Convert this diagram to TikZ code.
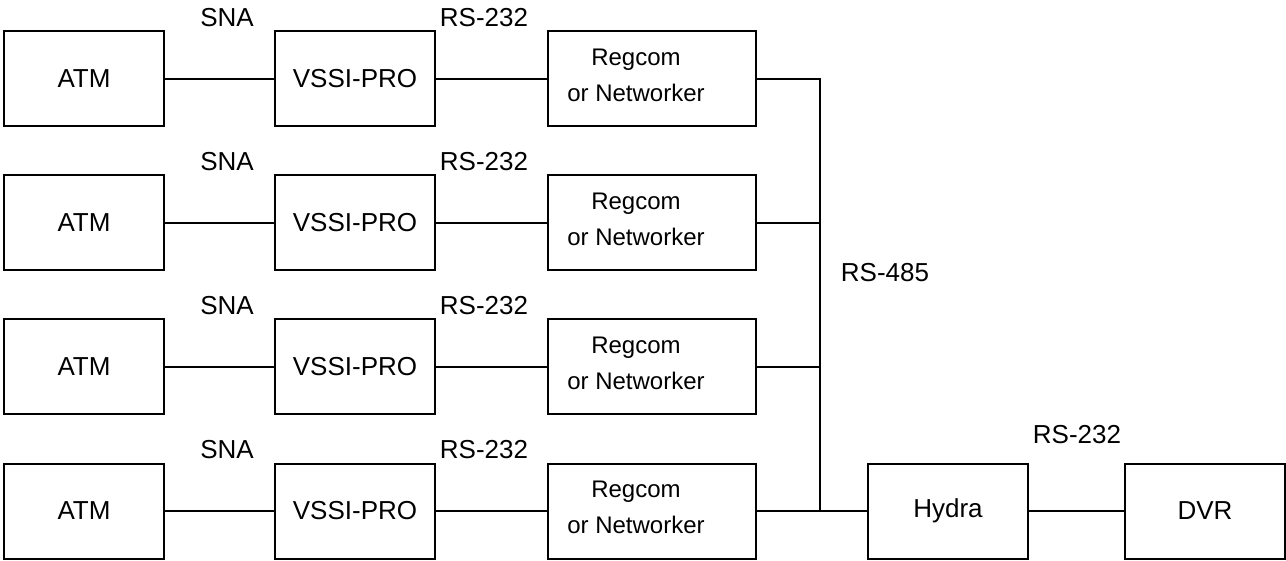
\documentclass[tikz,border=0pt]{standalone}
\usepackage{fontspec}
\setmainfont{Liberation Sans}
\usetikzlibrary{positioning}

\begin{document}
\begin{tikzpicture}[x=0.5pt, y=0.5pt, node distance=55.5pt,
    box/.style={rectangle, draw=black, line width=1pt, minimum width=80pt, minimum height=47.5pt, inner sep=0pt, outer sep=0pt, font=\fontsize{13}{16}\selectfont},
    widebox/.style={box, minimum width=104pt, font=\fontsize{12}{18}\selectfont},
    lbl/.style={font=\fontsize{13}{16}\selectfont},
    link/.style={line width=1pt}]
    \useasboundingbox (0,0) rectangle (1286,-561);
    \newcommand{\regtext}{\raisebox{1.5pt}[\height][\depth]{\begin{tabular}{@{}c@{}}\hspace*{-16pt}Regcom\\\hspace*{-16pt}or Networker\end{tabular}}}

    % ATM rows
    \node[box] (atm1) at (84,-79) {ATM};
    \node[box, below=24.5pt of atm1] (atm2) {ATM};
    \node[box, below=24.5pt of atm2] (atm3) {ATM};
    \node[box, below=24.5pt of atm3] (atm4) {ATM};

    \node[box, right=of atm1] (vssi1) {VSSI-PRO};
    \node[box, right=of atm2] (vssi2) {VSSI-PRO};
    \node[box, right=of atm3] (vssi3) {VSSI-PRO};
    \node[box, right=of atm4] (vssi4) {VSSI-PRO};

    \node[widebox, right=56.5pt of vssi1] (reg1) {\regtext};
    \node[widebox, right=56.5pt of vssi2] (reg2) {\regtext};
    \node[widebox, right=56.5pt of vssi3] (reg3) {\regtext};
    \node[widebox, right=56.5pt of vssi4] (reg4) {\regtext};

    \node[box] (hydra) at (948,-511) {Hydra};
    \node[box, right=48.5pt of hydra] (dvr) {DVR};

    % bus
    \coordinate (bustop) at (820,-79);
    \coordinate (busbot) at (820,-511);

    \draw[link] (atm1) -- (vssi1);
    \draw[link] (atm2) -- (vssi2);
    \draw[link] (atm3) -- (vssi3);
    \draw[link] (atm4) -- (vssi4);
    \draw[link] (vssi1) -- (reg1);
    \draw[link] (vssi2) -- (reg2);
    \draw[link] (vssi3) -- (reg3);
    \draw[link] (vssi4) -- (reg4);
    \draw[link] (reg1.east) -- (bustop) -- (busbot);
    \draw[link] (reg2.east) -- (reg2.east -| bustop);
    \draw[link] (reg3.east) -- (reg3.east -| bustop);
    \draw[link] (reg4) -- (hydra);
    \draw[link] (hydra) -- (dvr);

    % labels
    \node[lbl] (sna1) at (227,-18) {SNA};
    \node[lbl] (sna2) at (227,-162) {SNA};
    \node[lbl] (sna3) at (227,-306) {SNA};
    \node[lbl] (sna4) at (227,-450) {SNA};
    \node[lbl] (rs1) at (484,-18) {RS-232};
    \node[lbl] (rs2) at (484,-162) {RS-232};
    \node[lbl] (rs3) at (484,-306) {RS-232};
    \node[lbl] (rs4) at (484,-450) {RS-232};
    \node[lbl] (rs485) at (885,-273) {RS-485};
    \node[lbl] (rsdvr) at (1077,-435) {RS-232};
\end{tikzpicture}
\end{document}
